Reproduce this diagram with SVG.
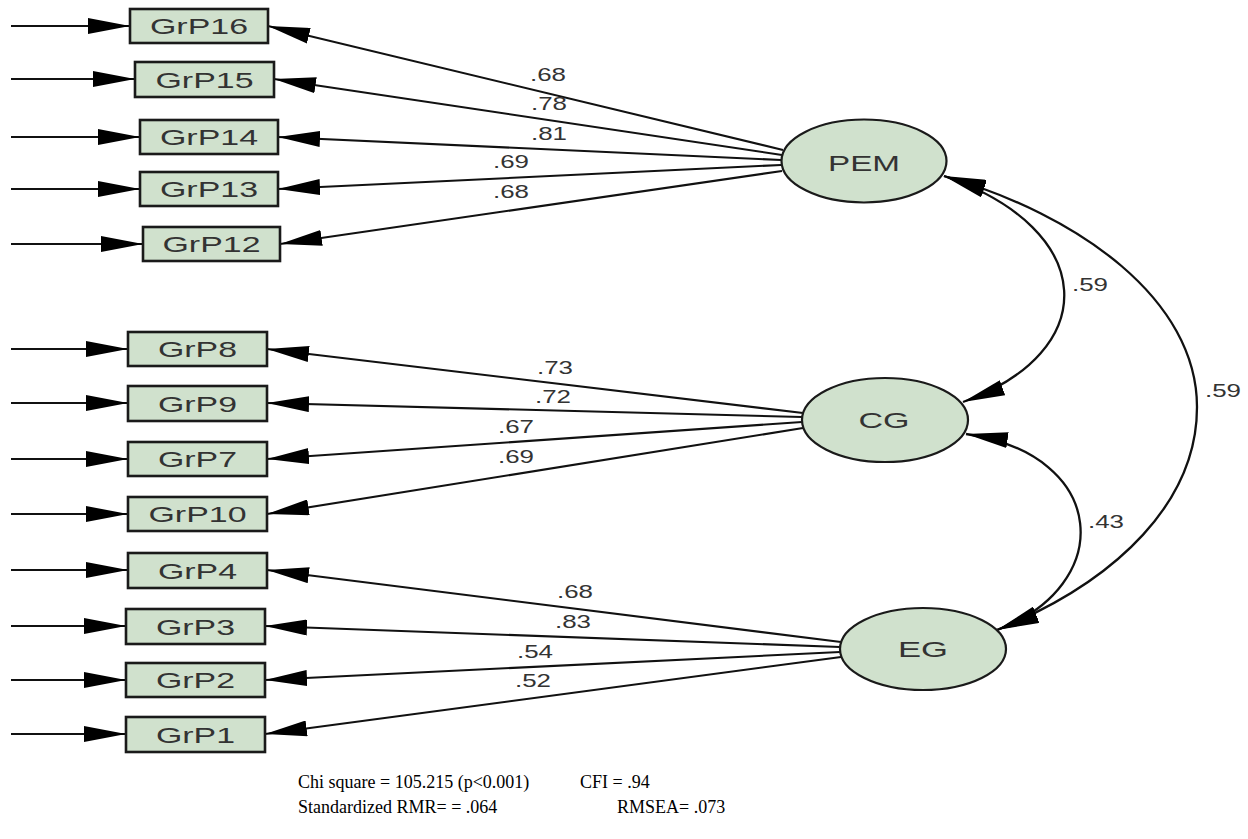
<svg xmlns="http://www.w3.org/2000/svg" width="1248" height="839" viewBox="0 0 1248 839">
  <style>
    .box { fill: #d0e1cd; stroke: #1a1a1a; stroke-width: 2.6; }
    .lat { fill: #d0e1cd; stroke: #1a1a1a; stroke-width: 2.2; }
    .lbl { font-family: "Liberation Sans", Arial, sans-serif; font-size: 22px; fill: #333; text-anchor: middle; }
    .coef { font-family: "Liberation Sans", Arial, sans-serif; font-size: 18.5px; fill: #333; }
    .fit { font-family: "Liberation Serif", "Times New Roman", serif; font-size: 18px; fill: #000; }
    .edge { fill: none; stroke: #111; stroke-width: 2.1; marker-end: url(#ah); }
    .cov { fill: none; stroke: #111; stroke-width: 2.3; marker-start: url(#ah); marker-end: url(#ah); }
  </style>
  <defs>
    <!-- long, narrow filled arrowhead -->
    <marker id="ah" viewBox="0 0 42 16" refX="42" refY="8" markerWidth="42" markerHeight="16" markerUnits="userSpaceOnUse" orient="auto-start-reverse">
      <path d="M0,0 L42,8 L0,16 Z" fill="#000"/>
    </marker>
  </defs>
  <rect width="1248" height="839" fill="#fff"/>

  <!-- connectors -->
  <g id="connectors">
    <!-- error terms into indicators -->
    <line class="edge" x1="11" y1="26" x2="130" y2="26"/>
    <line class="edge" x1="11" y1="79" x2="135" y2="79"/>
    <line class="edge" x1="11" y1="137" x2="140" y2="137"/>
    <line class="edge" x1="11" y1="189" x2="140" y2="189"/>
    <line class="edge" x1="11" y1="244" x2="143" y2="244"/>
    <line class="edge" x1="11" y1="349" x2="128" y2="349"/>
    <line class="edge" x1="11" y1="403" x2="128" y2="403"/>
    <line class="edge" x1="11" y1="459" x2="128" y2="459"/>
    <line class="edge" x1="11" y1="514" x2="128" y2="514"/>
    <line class="edge" x1="11" y1="570" x2="128" y2="570"/>
    <line class="edge" x1="11" y1="626" x2="126" y2="626"/>
    <line class="edge" x1="11" y1="680" x2="126" y2="680"/>
    <line class="edge" x1="11" y1="734" x2="126" y2="734"/>

    <!-- PEM loadings -->
    <line class="edge" x1="783" y1="150" x2="268" y2="26"/>
    <line class="edge" x1="782" y1="155" x2="274" y2="79"/>
    <line class="edge" x1="781" y1="160" x2="278" y2="137"/>
    <line class="edge" x1="781" y1="165" x2="278" y2="189"/>
    <line class="edge" x1="782" y1="171" x2="280" y2="244"/>

    <!-- CG loadings -->
    <line class="edge" x1="803" y1="413" x2="267" y2="349"/>
    <line class="edge" x1="802" y1="417" x2="267" y2="403"/>
    <line class="edge" x1="802" y1="422" x2="267" y2="459"/>
    <line class="edge" x1="803" y1="428" x2="267" y2="514"/>

    <!-- EG loadings -->
    <line class="edge" x1="841" y1="642" x2="267" y2="570"/>
    <line class="edge" x1="840" y1="647" x2="265" y2="626"/>
    <line class="edge" x1="840" y1="652" x2="265" y2="680"/>
    <line class="edge" x1="841" y1="657" x2="265" y2="734"/>

    <!-- covariances -->
    <path class="cov" d="M944,176 C1100,230 1102,352 963,402"/>
    <path class="cov" d="M944,176 C1080,215 1197,300 1197,407 C1197,500 1120,580 997,630"/>
    <path class="cov" d="M966,434 C1110,455 1116,586 997,630"/>
  </g>

  <!-- loading and covariance values -->
  <g id="estimates">
    <text class="coef" x="530" y="81" textLength="36" lengthAdjust="spacingAndGlyphs">.68</text>
    <text class="coef" x="531" y="110" textLength="36" lengthAdjust="spacingAndGlyphs">.78</text>
    <text class="coef" x="531" y="140" textLength="36" lengthAdjust="spacingAndGlyphs">.81</text>
    <text class="coef" x="493" y="168" textLength="36" lengthAdjust="spacingAndGlyphs">.69</text>
    <text class="coef" x="493" y="198" textLength="36" lengthAdjust="spacingAndGlyphs">.68</text>
    <text class="coef" x="537" y="374" textLength="36" lengthAdjust="spacingAndGlyphs">.73</text>
    <text class="coef" x="535" y="403" textLength="36" lengthAdjust="spacingAndGlyphs">.72</text>
    <text class="coef" x="498" y="433" textLength="36" lengthAdjust="spacingAndGlyphs">.67</text>
    <text class="coef" x="498" y="463" textLength="36" lengthAdjust="spacingAndGlyphs">.69</text>
    <text class="coef" x="557" y="598" textLength="36" lengthAdjust="spacingAndGlyphs">.68</text>
    <text class="coef" x="555" y="628" textLength="36" lengthAdjust="spacingAndGlyphs">.83</text>
    <text class="coef" x="517" y="658" textLength="36" lengthAdjust="spacingAndGlyphs">.54</text>
    <text class="coef" x="515" y="687" textLength="36" lengthAdjust="spacingAndGlyphs">.52</text>
    <text class="coef" x="1072" y="291" textLength="36" lengthAdjust="spacingAndGlyphs">.59</text>
    <text class="coef" x="1205" y="397" textLength="36" lengthAdjust="spacingAndGlyphs">.59</text>
    <text class="coef" x="1088" y="528" textLength="36" lengthAdjust="spacingAndGlyphs">.43</text>
  </g>

  <!-- observed indicators -->
  <g id="GrP16"><rect class="box" x="130" y="9" width="138" height="34"/><text class="lbl" x="199" y="34" textLength="98" lengthAdjust="spacingAndGlyphs">GrP16</text></g>
  <g id="GrP15"><rect class="box" x="135" y="62" width="139" height="35"/><text class="lbl" x="204.5" y="87.5" textLength="98" lengthAdjust="spacingAndGlyphs">GrP15</text></g>
  <g id="GrP14"><rect class="box" x="140" y="120" width="138" height="34"/><text class="lbl" x="209" y="145" textLength="98" lengthAdjust="spacingAndGlyphs">GrP14</text></g>
  <g id="GrP13"><rect class="box" x="140" y="172" width="138" height="34"/><text class="lbl" x="209" y="197" textLength="98" lengthAdjust="spacingAndGlyphs">GrP13</text></g>
  <g id="GrP12"><rect class="box" x="143" y="227" width="137" height="34"/><text class="lbl" x="211.5" y="252" textLength="98" lengthAdjust="spacingAndGlyphs">GrP12</text></g>
  <g id="GrP8"><rect class="box" x="128" y="332" width="139" height="34"/><text class="lbl" x="197.5" y="357" textLength="79" lengthAdjust="spacingAndGlyphs">GrP8</text></g>
  <g id="GrP9"><rect class="box" x="128" y="386" width="139" height="35"/><text class="lbl" x="197.5" y="411.5" textLength="79" lengthAdjust="spacingAndGlyphs">GrP9</text></g>
  <g id="GrP7"><rect class="box" x="128" y="442" width="139" height="34"/><text class="lbl" x="197.5" y="467" textLength="79" lengthAdjust="spacingAndGlyphs">GrP7</text></g>
  <g id="GrP10"><rect class="box" x="128" y="497" width="139" height="34"/><text class="lbl" x="197.5" y="522" textLength="98" lengthAdjust="spacingAndGlyphs">GrP10</text></g>
  <g id="GrP4"><rect class="box" x="128" y="553" width="139" height="35"/><text class="lbl" x="197.5" y="578.5" textLength="79" lengthAdjust="spacingAndGlyphs">GrP4</text></g>
  <g id="GrP3"><rect class="box" x="126" y="609" width="139" height="35"/><text class="lbl" x="195.5" y="634.5" textLength="79" lengthAdjust="spacingAndGlyphs">GrP3</text></g>
  <g id="GrP2"><rect class="box" x="126" y="663" width="139" height="34"/><text class="lbl" x="195.5" y="688" textLength="79" lengthAdjust="spacingAndGlyphs">GrP2</text></g>
  <g id="GrP1"><rect class="box" x="126" y="717" width="139" height="35"/><text class="lbl" x="195.5" y="742.5" textLength="79" lengthAdjust="spacingAndGlyphs">GrP1</text></g>

  <!-- latent factors -->
  <g id="PEM"><ellipse class="lat" cx="864" cy="161" rx="82.5" ry="41.5"/><text class="lbl" x="864" y="171" font-size="23" textLength="72" lengthAdjust="spacingAndGlyphs">PEM</text></g>
  <g id="CG"><ellipse class="lat" cx="885" cy="420" rx="83" ry="42"/><text class="lbl" x="884" y="428" font-size="23" textLength="51" lengthAdjust="spacingAndGlyphs">CG</text></g>
  <g id="EG"><ellipse class="lat" cx="923" cy="649" rx="83" ry="41"/><text class="lbl" x="923" y="657" font-size="23" textLength="50" lengthAdjust="spacingAndGlyphs">EG</text></g>

  <!-- fit statistics -->
  <g id="fit-indices">
    <text class="fit" x="298" y="788">Chi square = 105.215 (p&lt;0.001)</text>
    <text class="fit" x="580" y="788">CFI = .94</text>
    <text class="fit" x="298" y="813">Standardized RMR= = .064</text>
    <text class="fit" x="617" y="813">RMSEA= .073</text>
  </g>
</svg>
